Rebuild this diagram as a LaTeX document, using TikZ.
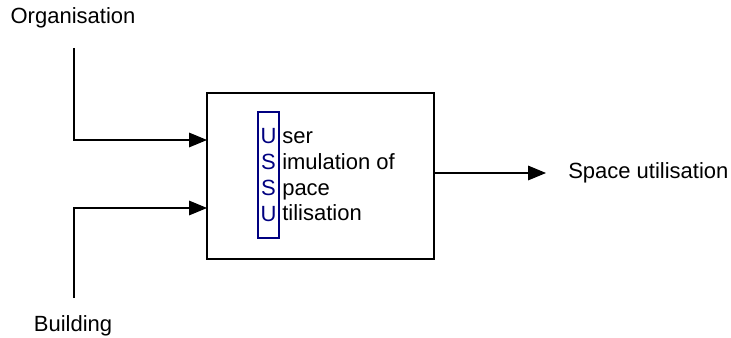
\documentclass[tikz,border=0pt]{standalone}
\usepackage{fontspec}
\setmainfont{Liberation Sans}
\usetikzlibrary{arrows.meta}
\definecolor{ussublue}{RGB}{0,0,128}
\tikzset{
  lbl/.style={inner sep=0pt, font=\fontsize{16.5}{19.3}\selectfont},
  conn/.style={line width=0.8pt, -{Triangle[length=13.5pt,width=11pt]}},
  mainbox/.style={draw, line width=1.1pt, minimum width=170.25pt, minimum height=124.5pt, inner sep=0pt, outer sep=0pt},
  letterbox/.style={draw=ussublue, line width=1.5pt, text=ussublue, minimum width=15.75pt, minimum height=94.5pt, inner sep=0pt, align=center, font=\fontsize{16.5}{19.3}\selectfont},
}
\begin{document}
\begin{tikzpicture}[x=0.75pt, y=-0.75pt]
\useasboundingbox (0,0) rectangle (731,338);
\node[mainbox] (box) at (320.5,176) {};
\node[letterbox] (ussu) at (268.5,175) {U\\S\\S\\U};
\node[lbl, anchor=west, align=left] (words) at (282,176.5) {ser\\imulation of\\pace\\tilisation};
\node[lbl] (org) at (73,18) {Organisation};
\node[lbl] (bld) at (73,326) {Building};
\node[lbl, anchor=west] (out) at (568,173) {Space utilisation};
\coordinate (orgstart) at (74,48);
\coordinate (bldstart) at (74,298);
\coordinate (outend) at (546,173);
\draw[conn] (orgstart) |- (box.west |- 0,140);
\draw[conn] (bldstart) |- (box.west |- 0,208);
\draw[conn] (box.east |- outend) -- (outend);
\end{tikzpicture}
\end{document}
